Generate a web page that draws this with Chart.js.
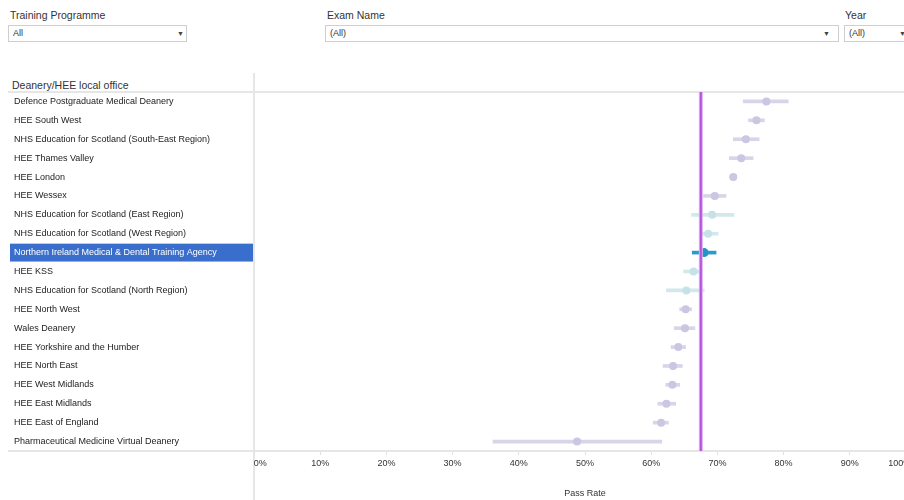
<!DOCTYPE html>
<html>
<head>
<meta charset="utf-8">
<script src="https://cdn.jsdelivr.net/npm/chart.js@4.4.1/dist/chart.umd.min.js"></script>
<style>
  html, body { margin: 0; padding: 0; width: 904px; height: 500px; overflow: hidden; background: #fff; font-family: "Liberation Sans", Arial, sans-serif; color: #333; }
  .flabel { position: absolute; font-size: 10.5px; color: #333; top: 9px; }
  .fbox { position: absolute; top: 25px; height: 15px; border: 1px solid #cfcfcf; background: #fff; font-size: 9px; line-height: 15px; color: #333; box-sizing: content-box; }
  .fbox span.t { position: absolute; left: 4px; top: 0; }
  .fbox span.a { position: absolute; top: 0; font-size: 7px; color: #444; }
  #hdr { position: absolute; left: 12px; top: 79px; font-size: 10.5px; color: #333; }
  #wrap { position: absolute; left: 0; top: 60px; width: 950px; height: 440px; }
</style>
</head>
<body>
<div class="flabel" style="left:10px">Training Programme</div>
<div class="fbox" style="left:8px;width:177px"><span class="t">All</span><span class="a" style="left:168px">&#9660;</span></div>
<div class="flabel" style="left:327px">Exam Name</div>
<div class="fbox" style="left:325px;width:512px"><span class="t">(All)</span><span class="a" style="left:497px">&#9660;</span></div>
<div class="flabel" style="left:845px">Year</div>
<div class="fbox" style="left:844px;width:70px"><span class="t">(All)</span><span class="a" style="left:54px">&#9660;</span></div>
<div id="hdr">Deanery/HEE local office</div>
<div id="wrap"><canvas id="c" width="950" height="440"></canvas></div>
<script>
const offices = [
  "Defence Postgraduate Medical Deanery",
  "HEE South West",
  "NHS Education for Scotland (South-East Region)",
  "HEE Thames Valley",
  "HEE London",
  "HEE Wessex",
  "NHS Education for Scotland (East Region)",
  "NHS Education for Scotland (West Region)",
  "Northern Ireland Medical & Dental Training Agency",
  "HEE KSS",
  "NHS Education for Scotland (North Region)",
  "HEE North West",
  "Wales Deanery",
  "HEE Yorkshire and the Humber",
  "HEE North East",
  "HEE West Midlands",
  "HEE East Midlands",
  "HEE East of England",
  "Pharmaceutical Medicine Virtual Deanery"
];
const passRate = [77.4, 75.9, 74.3, 73.6, 72.4, 69.6, 69.2, 68.6, 68.0, 66.4, 65.3, 65.2, 65.1, 64.1, 63.3, 63.2, 62.3, 61.5, 48.8];
const lowerCI  = [73.9, 74.7, 72.4, 71.8, 71.9, 67.9, 66.1, 67.4, 66.2, 64.9, 62.3, 64.3, 63.5, 63.0, 61.8, 62.2, 61.0, 60.3, 36.1];
const upperCI  = [80.7, 77.1, 76.3, 75.4, 72.9, 71.3, 72.5, 70.1, 69.8, 67.6, 68.0, 66.1, 66.6, 65.2, 64.7, 64.3, 63.7, 62.6, 61.6];
// group: 0 = other, 1 = similar (teal), 2 = selected
const group    = [0, 0, 0, 0, 0, 0, 1, 1, 2, 1, 1, 0, 0, 0, 0, 0, 0, 0, 0];
const overallPassRate = 67.5;
const xTicks = [0, 10, 20, 30, 40, 50, 60, 70, 80, 90, 100];
const xTickLabels = ["     0%", "10%", "20%", "30%", "40%", "50%", "60%", "70%", "80%", "90%", "100%             "];
const selectedIndex = 8;

const dotColors = group.map(g => g === 2 ? "#2196c6" : (g === 1 ? "#c6e2e8" : "#cbc6e1"));
const barColors = group.map(g => g === 2 ? "#2a9ccb" : (g === 1 ? "#d2e8ec" : "#d8d4ea"));

const framePlugin = {
  id: "frame",
  beforeDraw(chart) {
    const ctx = chart.ctx;
    const y = chart.scales.y;
    const ca = chart.chartArea;
    const h = (ca.bottom - ca.top) / offices.length;
    const py = y.getPixelForTick(selectedIndex);
    ctx.save();
    ctx.fillStyle = "#3a6ecc";
    ctx.fillRect(10, py - h / 2 + 0.5, ca.left - 11, h - 1);
    ctx.strokeStyle = "#e6e6e6";
    ctx.lineWidth = 2;
    ctx.beginPath();
    ctx.moveTo(8, ca.top); ctx.lineTo(950, ca.top);
    ctx.moveTo(8, ca.bottom); ctx.lineTo(950, ca.bottom);
    ctx.moveTo(ca.left, 13); ctx.lineTo(ca.left, 440);
    ctx.stroke();
    ctx.restore();
  },
  afterDatasetsDraw(chart) {
    const ctx = chart.ctx;
    const ca = chart.chartArea;
    const px = chart.scales.x.getPixelForValue(overallPassRate);
    ctx.save();
    ctx.strokeStyle = "#dcaef0";
    ctx.lineWidth = 4;
    ctx.beginPath(); ctx.moveTo(px, ca.top); ctx.lineTo(px, ca.bottom); ctx.stroke();
    ctx.strokeStyle = "#b358da";
    ctx.lineWidth = 2;
    ctx.beginPath(); ctx.moveTo(px, ca.top); ctx.lineTo(px, ca.bottom); ctx.stroke();
    ctx.restore();
  }
};

new Chart(document.getElementById("c"), {
  type: "bar",
  data: {
    labels: offices,
    datasets: [
      {
        type: "line",
        label: "Pass Rate",
        data: offices.map((o, i) => ({ x: passRate[i], y: o })),
        showLine: false,
        pointRadius: offices.map((o, i) => group[i] === 2 ? 4.5 : 4),
        pointBackgroundColor: dotColors,
        pointBorderColor: dotColors,
        pointBorderWidth: 0,
        order: 0
      },
      {
        type: "bar",
        label: "95% CI",
        data: offices.map((o, i) => [lowerCI[i], upperCI[i]]),
        backgroundColor: barColors,
        borderWidth: 0,
        barThickness: 3,
        order: 1
      }
    ]
  },
  options: {
    indexAxis: "y",
    responsive: false,
    animation: false,
    events: [],
    layout: { padding: { left: 14, right: 34, top: 32, bottom: 1 } },
    plugins: { legend: { display: false }, tooltip: { enabled: false } },
    scales: {
      x: {
        type: "linear",
        min: 0, max: 100,
        afterBuildTicks(scale) { scale.ticks = xTicks.map(v => ({ value: v })); },
        afterFit(scale) { scale.height = 48; },
        ticks: {
          autoSkip: false,
          maxRotation: 0,
          padding: 3,
          color: "#333",
          font: { family: "Liberation Sans", size: 9 },
          callback: (v) => xTickLabels[xTicks.indexOf(v)]
        },
        grid: { drawOnChartArea: false, drawTicks: true, tickLength: 4, color: "#e2e2e2" },
        border: { display: false },
        title: { display: true, text: "Pass Rate", color: "#333", font: { family: "Liberation Sans", size: 9 }, padding: 0 }
      },
      y: {
        type: "category",
        offset: true,
        afterFit(scale) { scale.width = 240; },
        ticks: {
          autoSkip: false,
          crossAlign: "far",
          padding: 0,
          color: (ctx) => ctx.index === selectedIndex ? "#ffffff" : "#222",
          font: { family: "Liberation Sans", size: 9 }
        },
        grid: { display: false },
        border: { display: false }
      }
    }
  },
  plugins: [framePlugin]
});
</script>
</body>
</html>
